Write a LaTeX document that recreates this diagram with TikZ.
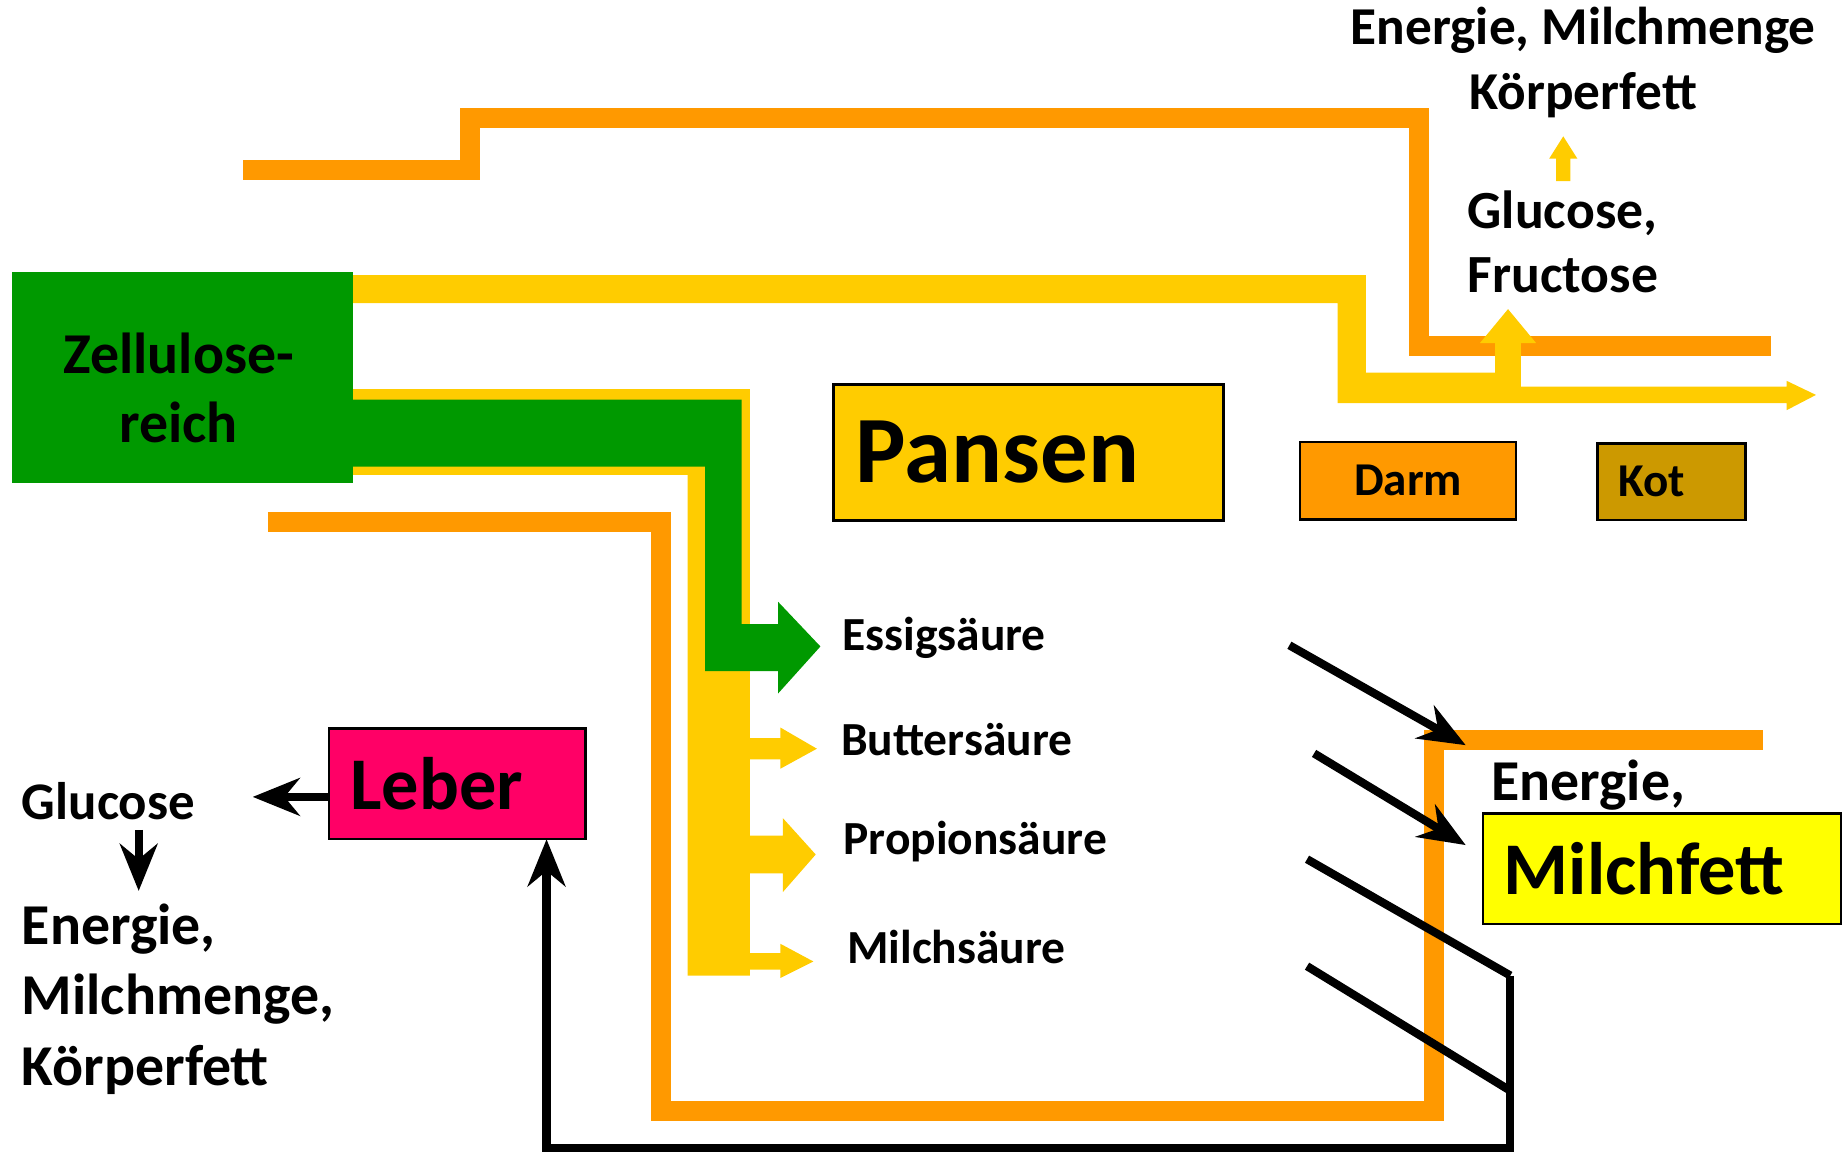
\documentclass[tikz,border=0pt]{standalone}
\usepackage{fontspec}
\setmainfont{Carlito}
\usetikzlibrary{arrows.meta}

\definecolor{gruen}{HTML}{009900}
\definecolor{gelb}{HTML}{FFCC00}
\definecolor{flussorange}{HTML}{FF9900}
\definecolor{kotbraun}{HTML}{CC9900}
\definecolor{leberrot}{HTML}{FF0066}
\definecolor{fettgelb}{HTML}{FFFF00}

\begin{document}
\begin{tikzpicture}[
  x=0.1mm, y=-0.1mm,
  box/.style={
    draw, line width=0.6pt, rectangle,
    inner ysep=0pt, align=left
  },
  lbl/.style={inner sep=0pt, anchor=west, align=left},
  orangeflow/.style={draw=flussorange, line width=1.7mm},
  arr/.style={-{Stealth[length=4mm, width=3.2mm, inset=1.3mm]}, line width=0.7mm},
  blk/.style={line width=0.7mm},
]
\useasboundingbox (0,0) rectangle (1568,984);

% orange flows
\draw[orangeflow] (207,145) -- (400,145) -- (400,100) -- (1207,100) -- (1207,294) -- (1507,294);
\draw[orangeflow] (228,444) -- (562,444) -- (562,945) -- (1220,945) -- (1220,630) -- (1500,630);

% upper yellow flow with branch to glucose
\fill[gelb] (300,234) -- (1162,234) -- (1162,317) -- (1272,317) -- (1272,292) -- (1259,292)
  -- (1283,263) -- (1307,292) -- (1294,292) -- (1294,329) -- (1520,329) -- (1520,324)
  -- (1545,336) -- (1520,349) -- (1520,343) -- (1138,343) -- (1138,258) -- (300,258) -- cycle;
\fill[gelb] (1324,154) -- (1324,135) -- (1318,135) -- (1330,116) -- (1342,135) -- (1336,135)
  -- (1336,154) -- cycle;

% middle flow into the acids
\fill[gelb] (300,331) -- (638,331) -- (638,830) -- (585,830) -- (585,404) -- (300,404) -- cycle;
\fill[gruen] (300,340) -- (631,340) -- (631,531) -- (662,531) -- (662,512) -- (698,550)
  -- (662,590) -- (662,571) -- (600,571) -- (600,397) -- (300,397) -- cycle;
\fill[gelb] (638,628) -- (664,628) -- (664,619) -- (695,637) -- (664,654) -- (664,646) -- (638,646) -- cycle;
\fill[gelb] (638,711) -- (666,711) -- (666,696) -- (694,727) -- (666,759) -- (666,743) -- (638,743) -- cycle;
\fill[gelb] (638,811) -- (664,811) -- (664,803) -- (692,818) -- (664,832) -- (664,825) -- (638,825) -- cycle;

% boxes
\node[fill=gruen, minimum width=29mm, minimum height=18mm, inner sep=0pt] (zell) at (155,321) {};
\node[inner sep=0pt, align=center, font=\fontsize{14}{16.5}\selectfont\bfseries]
  (zelltext) at (152,330) {Zellulose-\\reich};
\node[box, fill=gelb, minimum height=11.6mm, inner xsep=1.9mm, text width=29.4mm,
  font=\fontsize{23}{26}\selectfont\bfseries] (pansen) at (875,385) {Pansen};
\node[box, fill=flussorange, minimum width=18.4mm, minimum height=6.6mm, align=center,
  font=\fontsize{11.4}{13}\selectfont\bfseries] (darm) at (1198,409) {Darm};
\node[box, fill=kotbraun, minimum height=6.5mm, inner xsep=1.8mm, text width=9mm,
  font=\fontsize{11.4}{13}\selectfont\bfseries] (kot) at (1422,410) {Kot};
\node[box, fill=leberrot, minimum height=9.4mm, inner xsep=1.8mm, text width=18.2mm,
  font=\fontsize{18}{21}\selectfont\bfseries] (leber) at (389,667) {Leber};
\node[box, fill=fettgelb, minimum height=9.4mm, inner xsep=1.8mm, text width=26.9mm,
  font=\fontsize{18}{21}\selectfont\bfseries] (milchfett) at (1414,739) {Milchfett};

% labels
\node[lbl, font=\fontsize{11.5}{14}\selectfont\bfseries] (essig) at (716,543) {Essigsäure};
\node[lbl, font=\fontsize{11.5}{14}\selectfont\bfseries] (butter) at (715,629) {Buttersäure};
\node[lbl, font=\fontsize{11.5}{14}\selectfont\bfseries] (propion) at (717,716) {Propionsäure};
\node[lbl, font=\fontsize{11.5}{14}\selectfont\bfseries] (milchs) at (720,806) {Milchsäure};
\node[anchor=center, inner sep=0pt, align=center, font=\fontsize{12.9}{15.6}\selectfont\bfseries]
  (outr) at (1347,53) {Energie, Milchmenge\\Körperfett};
\node[lbl, font=\fontsize{13}{15.4}\selectfont\bfseries] (glfr) at (1248,206) {Glucose,\\Fructose};
\node[lbl, font=\fontsize{14}{17}\selectfont\bfseries] (energie) at (1268,668) {Energie,};
\node[lbl, font=\fontsize{12.8}{15}\selectfont\bfseries] (glc) at (18,682) {Glucose};
\node[lbl, font=\fontsize{14}{17}\selectfont\bfseries] (outl) at (18,850) {Energie,\\Milchmenge,\\Körperfett};

% black connectors
\coordinate (a1) at (1097,549);
\coordinate (m1) at (1247,634);
\coordinate (a2) at (1118,641);
\coordinate (m2) at (1247,719);
\coordinate (a3) at (1112,731);
\coordinate (j3) at (1285,830);
\coordinate (a4) at (1112,822);
\coordinate (j4) at (1285,928);
\coordinate (lb) at (465,714);
\coordinate (lw) at (280,678);
\coordinate (g1) at (118,706);
\coordinate (g2) at (118,758);

\draw[arr] (a1) -- (m1);
\draw[arr] (a2) -- (m2);
\draw[blk] (a3) -- (j3);
\draw[blk] (a4) -- (j4);
\draw[arr] (j3) |- (lb |- 0,977) -- (lb);
\draw[arr] (lw) -- (215,678);
\draw[arr] (g1) -- (g2);

\end{tikzpicture}
\end{document}
